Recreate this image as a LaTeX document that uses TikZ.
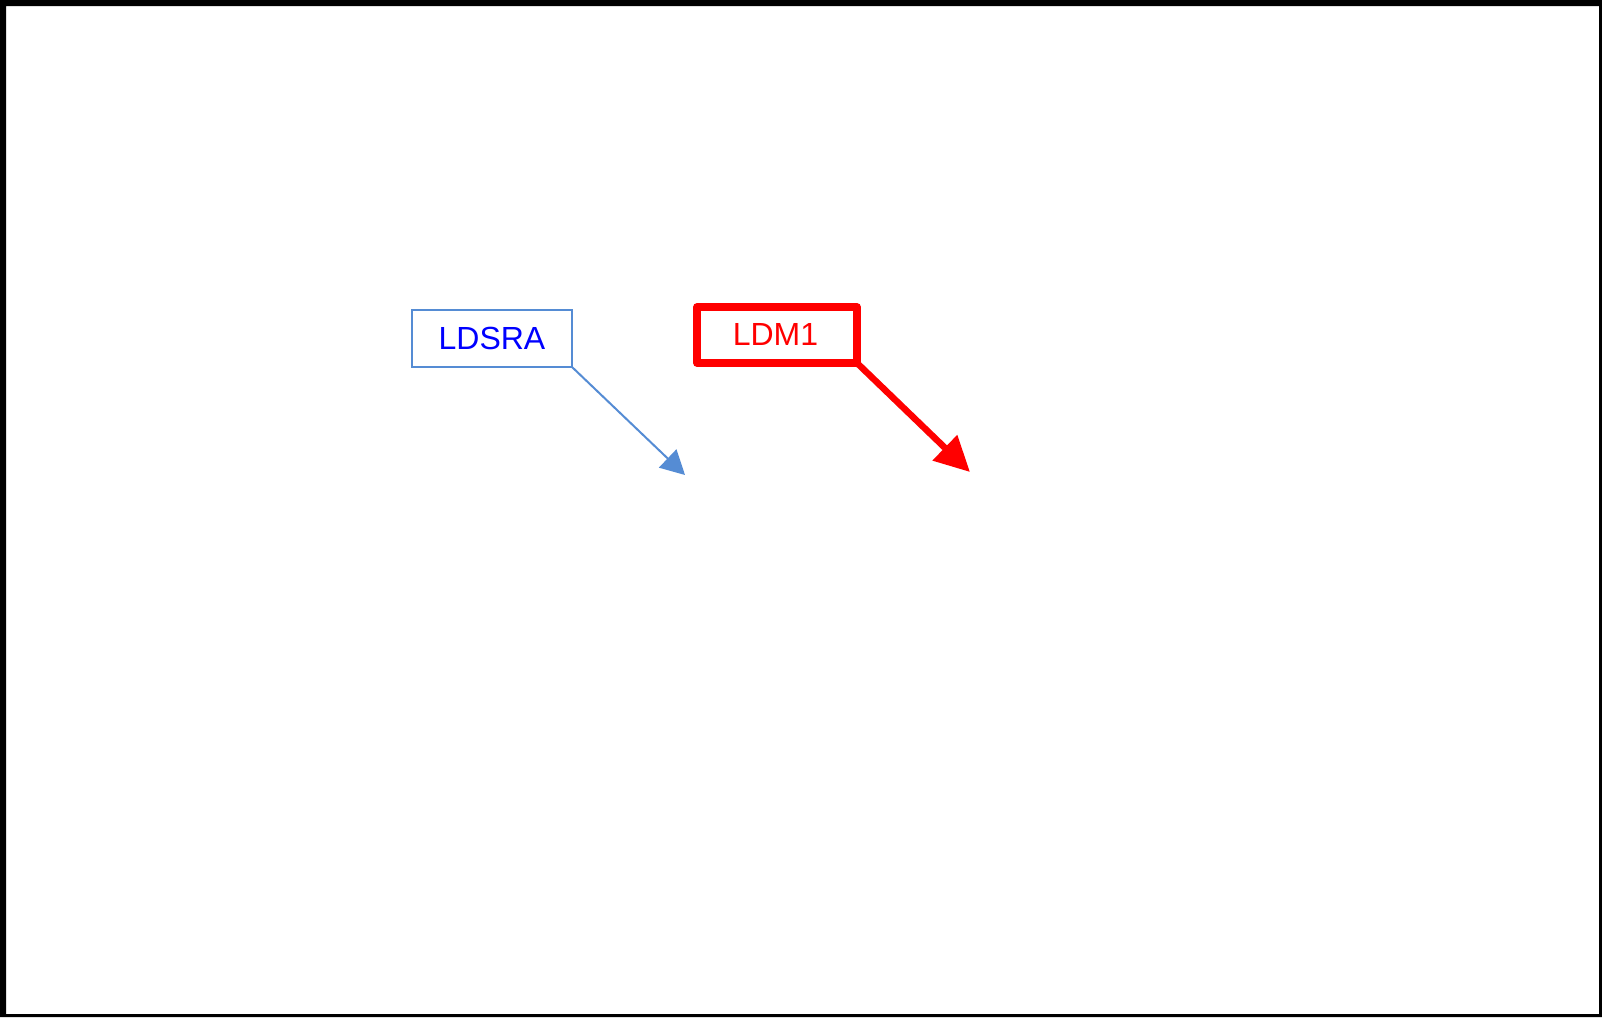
\documentclass[tikz,border=0pt]{standalone}
\usepackage{fontspec}
\setmainfont{Liberation Sans}
\usetikzlibrary{arrows.meta}
\definecolor{boxblue}{RGB}{85,140,212}
\definecolor{txtblue}{RGB}{0,0,255}
\definecolor{pured}{RGB}{255,0,0}
\tikzset{
  lbl/.style={font=\fontsize{32}{32}\selectfont, inner sep=0pt, anchor=center},
  bluebox/.style={draw=boxblue, line width=2pt, fill=white, minimum width=160pt, minimum height=57pt, inner sep=0pt, outer sep=0pt},
  redbox/.style={draw=pured, line width=7.5pt, line join=round, fill=white, minimum width=160pt, minimum height=56pt, inner sep=0pt, outer sep=0pt},
  bluearrow/.style={draw=boxblue, line width=2pt, -{Triangle[length=24pt,width=25pt]}},
  redarrow/.style={draw=pured, line width=6.5pt, -{Triangle[length=35pt,width=34pt]}},
}
\begin{document}
\begin{tikzpicture}[x=1pt,y=-1pt]
\useasboundingbox (0,0) rectangle (1602,1017);
\fill[white] (0,0) rectangle (1602,1017);
\fill[black, even odd rule] (0,0) rectangle (1602,1017) (6,6) rectangle (1599,1014);
\node[bluebox] (ldsra) at (492,338.5) {};
\node[lbl, text=txtblue] (ldsratext) at (492,338) {LDSRA};
\node[redbox] (ldm) at (777,335) {};
\node[lbl, text=pured] (ldmtext) at (775.5,334) {LDM1};
\coordinate (bluetip) at (685,475);
\coordinate (redtip) at (970,472);
\draw[bluearrow] (ldsra.south east) -- (bluetip);
\draw[redarrow] (ldm.south east) -- (redtip);
\end{tikzpicture}
\end{document}
